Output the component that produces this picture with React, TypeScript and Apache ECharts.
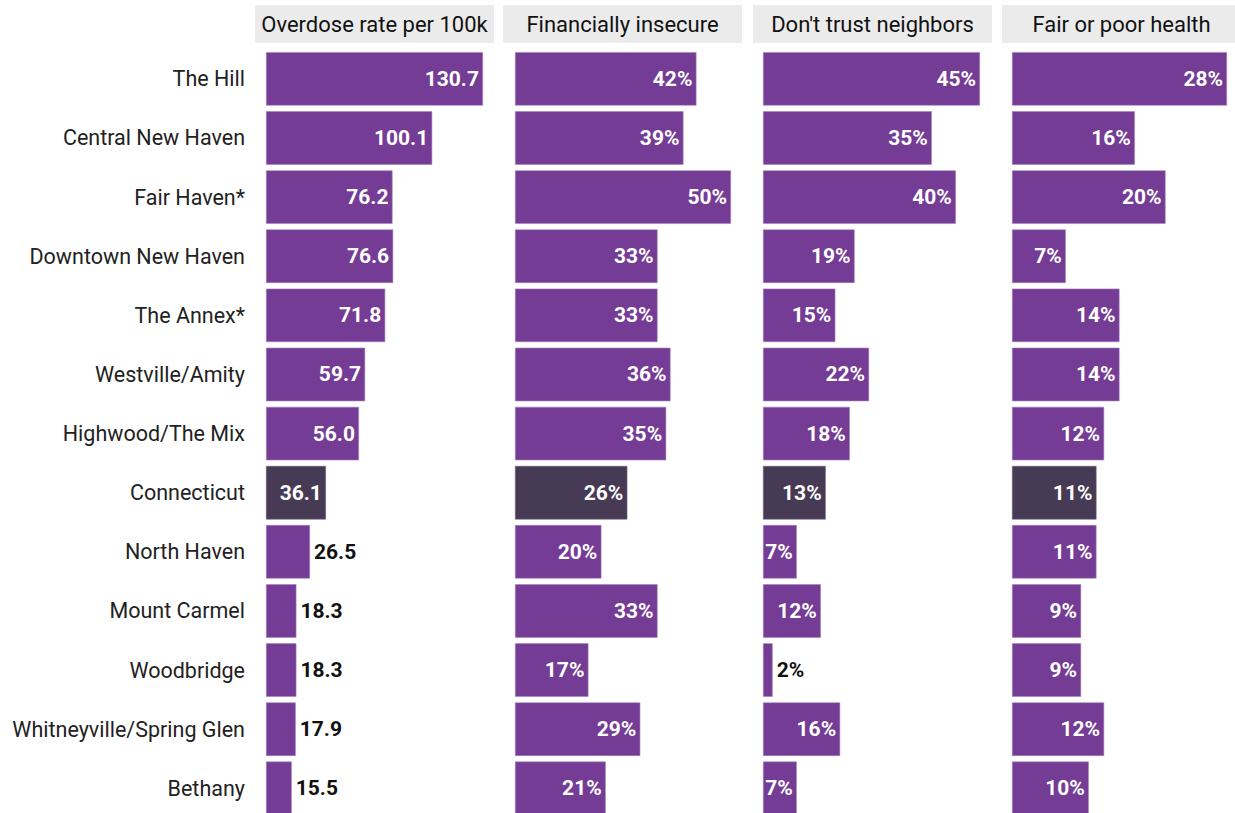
import React, { useEffect, useRef } from "react";
import * as echarts from "echarts";

const categories = [
  "The Hill",
  "Central New Haven",
  "Fair Haven*",
  "Downtown New Haven",
  "The Annex*",
  "Westville/Amity",
  "Highwood/The Mix",
  "Connecticut",
  "North Haven",
  "Mount Carmel",
  "Woodbridge",
  "Whitneyville/Spring Glen",
  "Bethany",
];

const panelTitles = [
  "Overdose rate per 100k",
  "Financially insecure",
  "Don't trust neighbors",
  "Fair or poor health",
];

const overdoseRate = [130.7, 100.1, 76.2, 76.6, 71.8, 59.7, 56.0, 36.1, 26.5, 18.3, 18.3, 17.9, 15.5];
const financiallyInsecure = [42, 39, 50, 33, 33, 36, 35, 26, 20, 33, 17, 29, 21];
const dontTrustNeighbors = [45, 35, 40, 19, 15, 22, 18, 13, 7, 12, 2, 16, 7];
const fairPoorHealth = [28, 16, 20, 7, 14, 14, 12, 11, 11, 9, 9, 12, 10];

// labels drawn outside the bar (too short to hold them)
const outsideLabels = [
  [false, false, false, false, false, false, false, false, true, true, true, true, true],
  [false, false, false, false, false, false, false, false, false, false, false, false, false],
  [false, false, false, false, false, false, false, false, false, false, true, false, false],
  [false, false, false, false, false, false, false, false, false, false, false, false, false],
];

const PURPLE = "#743c95";
const DARK = "#463a55";
const FONT = "'Roboto', sans-serif";

export default function App() {
  const ref = useRef<HTMLDivElement>(null);

  useEffect(() => {
    if (!ref.current) return;
    const chart = echarts.init(ref.current, undefined, { renderer: "svg" });
    const seriesData = [overdoseRate, financiallyInsecure, dontTrustNeighbors, fairPoorHealth];
    const lefts = [266, 515, 763, 1012];
    const widths = [217, 216, 217, 215];
    const headerX = [255, 503, 753, 1002];
    const headerW = 239;
    const top = 49.3;
    const height = 59.12 * categories.length;

    const grids = lefts.map((l, i) => ({
      left: l,
      width: widths[i],
      top,
      height,
      outerBoundsMode: "none",
      containLabel: false,
    }));
    const xAxes = seriesData.map((d, i) => ({
      type: "value",
      gridIndex: i,
      min: 0,
      max: Math.max(...d),
      show: false,
    }));
    const yAxes = seriesData.map((_, i) => ({
      type: "category",
      gridIndex: i,
      data: categories,
      inverse: true,
      axisLine: { show: false },
      axisTick: { show: false },
      splitLine: { show: false },
      axisLabel: {
        show: i === 0,
        margin: 21,
        fontFamily: FONT,
        fontSize: 21.5,
        color: "#222",
      },
    }));
    const series = seriesData.map((d, i) => ({
      type: "bar",
      xAxisIndex: i,
      yAxisIndex: i,
      barWidth: 53.5,
      data: d.map((v, j) => {
        const outside = outsideLabels[i][j];
        const isCT = categories[j] === "Connecticut";
        return {
          value: v,
          itemStyle: {
            color: isCT ? DARK : PURPLE,
            borderColor: isCT ? "#6a5f78" : "#a283b8",
            borderWidth: 0.6,
          },
          label: {
            show: true,
            position: outside ? "right" : "insideRight",
            distance: 4,
            color: outside ? "#111" : "#fff",
            fontWeight: "bold",
            fontFamily: FONT,
            fontSize: 21,
            formatter: (p: any) =>
              i === 0 ? Number(p.value).toFixed(1) : `${p.value}%`,
          },
        };
      }),
    }));

    const graphic: any[] = [];
    panelTitles.forEach((t, i) => {
      graphic.push({
        type: "rect",
        shape: { x: headerX[i], y: 5, width: headerW, height: 38 },
        style: { fill: "#ebebeb" },
        silent: true,
      });
      graphic.push({
        type: "text",
        x: headerX[i] + headerW / 2,
        y: 24.5,
        style: {
          text: t,
          fill: "#111",
          font: `22px ${FONT}`,
          align: "center",
          verticalAlign: "middle",
        },
        silent: true,
      });
    });

    chart.setOption({
      animation: false,
      grid: grids,
      xAxis: xAxes,
      yAxis: yAxes,
      series,
      graphic,
    });
    return () => chart.dispose();
  }, []);

  return (
    <div
      ref={ref}
      style={{ position: "absolute", left: 0, top: 0, width: 1235, height: 813, background: "#fff" }}
    />
  );
}
